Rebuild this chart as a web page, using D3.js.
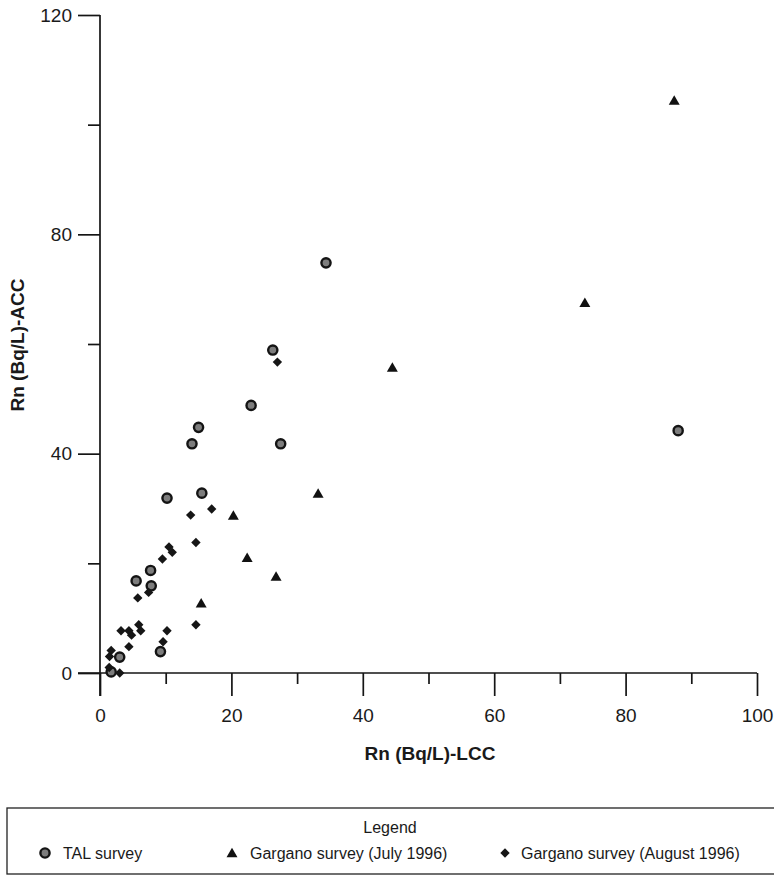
<!DOCTYPE html>
<html>
<head>
<meta charset="utf-8">
<script src="https://cdn.jsdelivr.net/npm/d3@7"></script>
<style>
  html, body { margin: 0; padding: 0; background: #fff; }
  svg { display: block; }
  text { font-family: "Liberation Sans", Arial, sans-serif; fill: #1a1a1a; }
</style>
</head>
<body>
<svg id="chart" width="774" height="880"></svg>
<script>
// Radon concentration: LCC (x) vs ACC (y), Bq/L
const talSurvey = [
  [34.4, 74.8], [26.3, 58.9], [23.0, 48.8], [27.5, 41.8], [15.0, 44.8],
  [14.0, 41.8], [10.2, 31.9], [15.5, 32.8], [7.7, 18.7], [5.5, 16.8],
  [7.8, 15.9], [9.2, 3.9], [3.0, 2.9], [1.7, 0.2], [88.0, 44.2]
];
const garganoJuly = [
  [87.4, 104.4], [73.8, 67.5], [44.5, 55.7], [33.2, 32.7],
  [20.3, 28.7], [22.4, 21.0], [26.8, 17.6], [15.4, 12.7]
];
const garganoAugust = [
  [27.0, 56.7], [17.0, 29.9], [13.8, 28.8], [14.6, 23.8], [10.5, 23.0],
  [11.0, 22.0], [9.5, 20.8], [7.4, 14.7], [5.75, 13.7], [14.6, 8.8],
  [3.2, 7.7], [4.4, 7.7], [4.8, 6.9], [5.9, 8.8], [6.2, 7.7],
  [10.2, 7.7], [4.4, 4.8], [9.6, 5.7], [1.7, 4.1], [1.45, 3.0],
  [1.4, 1.0], [3.0, 0.0]
];
const xMajorTicks = [0, 20, 40, 60, 80, 100];
const xMinorTicks = [10, 30, 50, 70, 90];
const yMajorTicks = [0, 40, 80, 120];
const yMinorTicks = [20, 60, 100];
const xTitle = "Rn (Bq/L)-LCC";
const yTitle = "Rn (Bq/L)-ACC";
const legendTitle = "Legend";
const seriesNames = ["TAL survey", "Gargano survey (July 1996)", "Gargano survey (August 1996)"];

const svg = d3.select("#chart");
const ink = "#151515";

const x = d3.scaleLinear().domain([0, 100]).range([100, 757]);
const y = d3.scaleLinear().domain([0, 120]).range([673, 15]);

// Axes: major ticks long with labels, minor ticks short
function styleAxis(g) {
  g.select(".domain").attr("stroke", ink).attr("stroke-width", 1.7);
  g.selectAll(".tick line").attr("stroke", ink).attr("stroke-width", 1.7);
  g.selectAll(".tick text").style("font-size", "19px").attr("fill", "#222");
}

const xAxisG = svg.append("g").attr("transform", `translate(0,${y(0)})`)
  .call(d3.axisBottom(x).tickValues(xMajorTicks).tickSize(23).tickPadding(13).tickSizeOuter(0));
styleAxis(xAxisG);
xAxisG.select(".domain").attr("d", `M${x(0) - 22},0H${x(100)}`);

svg.append("g").attr("transform", `translate(0,${y(0)})`)
  .call(d3.axisBottom(x).tickValues(xMinorTicks).tickSize(11).tickFormat(""))
  .call(g => { g.select(".domain").remove(); styleAxis(g); });

const yAxisG = svg.append("g").attr("transform", `translate(${x(0)},0)`)
  .call(d3.axisLeft(y).tickValues(yMajorTicks).tickSize(22).tickPadding(6).tickSizeOuter(0));
styleAxis(yAxisG);
yAxisG.select(".domain").attr("d", `M0,${y(120)}V${y(0) + 23}`);

svg.append("g").attr("transform", `translate(${x(0)},0)`)
  .call(d3.axisLeft(y).tickValues(yMinorTicks).tickSize(12).tickFormat(""))
  .call(g => { g.select(".domain").remove(); styleAxis(g); });

// Axis titles
svg.append("text").attr("x", 430).attr("y", 760).attr("text-anchor", "middle")
  .style("font-size", "19px").style("font-weight", "bold").attr("fill", "#222").text(xTitle);
svg.append("text").attr("transform", `translate(24,345) rotate(-90)`)
  .attr("text-anchor", "middle").style("font-size", "19px").style("font-weight", "bold")
  .attr("fill", "#222").text(yTitle);

// Marker shapes
const triPath = d3.symbol().type(d3.symbolTriangle).size(52)();
const diaPath = d3.symbol().type(d3.symbolSquare).size(44)();

function drawCircle(g, cx, cy) {
  g.append("circle").attr("cx", cx).attr("cy", cy).attr("r", 4.6)
    .attr("fill", "#7d7d7d").attr("stroke", "#141414").attr("stroke-width", 2.4);
}
function drawTriangle(g, cx, cy) {
  g.append("path").attr("d", triPath).attr("transform", `translate(${cx},${cy + 1})`)
    .attr("fill", "#111");
}
function drawDiamond(g, cx, cy) {
  g.append("path").attr("d", diaPath).attr("transform", `translate(${cx},${cy}) rotate(45)`)
    .attr("fill", "#161616");
}

const marks = svg.append("g");
talSurvey.forEach(d => drawCircle(marks, x(d[0]), y(d[1])));
garganoJuly.forEach(d => drawTriangle(marks, x(d[0]), y(d[1])));
garganoAugust.forEach(d => drawDiamond(marks, x(d[0]), y(d[1])));

// Legend box
const lg = svg.append("g");
lg.append("rect").attr("x", 7).attr("y", 808).attr("width", 800).attr("height", 66)
  .attr("fill", "none").attr("stroke", "#222").attr("stroke-width", 1.3);
lg.append("text").attr("x", 390).attr("y", 833).attr("text-anchor", "middle")
  .style("font-size", "16px").text(legendTitle);

const legendItems = [
  { sx: 45, tx: 63, draw: drawCircle },
  { sx: 232, tx: 250, draw: drawTriangle },
  { sx: 505, tx: 521, draw: drawDiamond }
];
legendItems.forEach((it, i) => {
  it.draw(lg, it.sx, 853);
  lg.append("text").attr("x", it.tx).attr("y", 859).style("font-size", "16px").text(seriesNames[i]);
});
</script>
</body>
</html>
